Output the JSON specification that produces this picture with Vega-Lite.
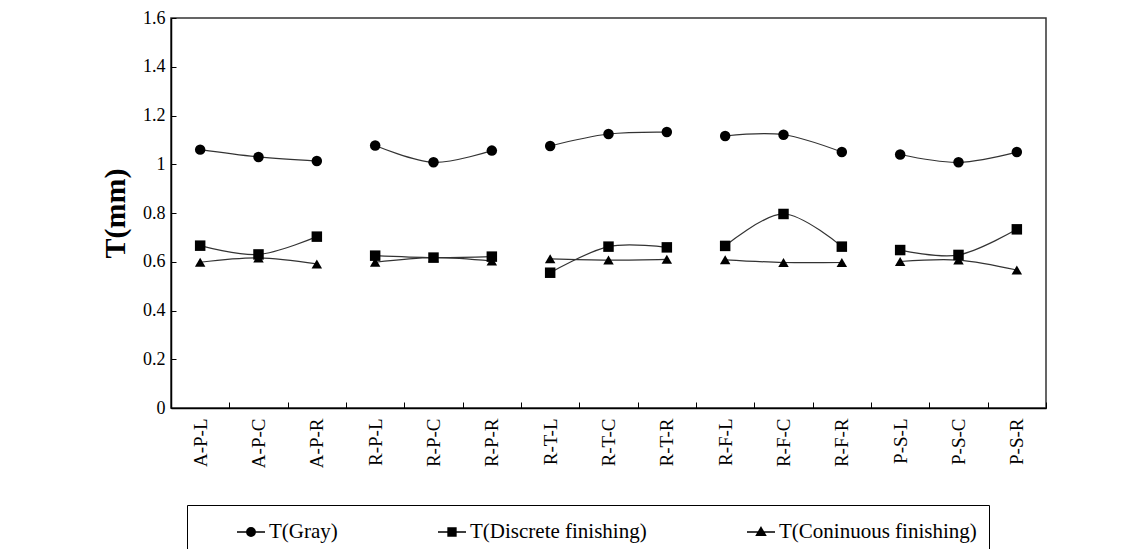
{
  "$schema": "https://vega.github.io/schema/vega-lite/v6.json",
  "width": 875,
  "height": 390,
  "autosize": {"type": "none"},
  "padding": {"left": 171, "top": 18, "right": 94, "bottom": 141},
  "background": "white",
  "config": {
    "view": {"stroke": "#333", "strokeWidth": 1.5},
    "axis": {
      "domainColor": "black",
      "tickColor": "black",
      "labelColor": "black",
      "labelFont": "Liberation Serif",
      "grid": false
    }
  },
  "data": {
    "values": [
      {"cat": "A-P-L", "g": "A-P", "series": "T(Gray)", "v": 1.06},
      {"cat": "A-P-C", "g": "A-P", "series": "T(Gray)", "v": 1.03},
      {"cat": "A-P-R", "g": "A-P", "series": "T(Gray)", "v": 1.013},
      {"cat": "R-P-L", "g": "R-P", "series": "T(Gray)", "v": 1.077},
      {"cat": "R-P-C", "g": "R-P", "series": "T(Gray)", "v": 1.008},
      {"cat": "R-P-R", "g": "R-P", "series": "T(Gray)", "v": 1.056},
      {"cat": "R-T-L", "g": "R-T", "series": "T(Gray)", "v": 1.075},
      {"cat": "R-T-C", "g": "R-T", "series": "T(Gray)", "v": 1.124},
      {"cat": "R-T-R", "g": "R-T", "series": "T(Gray)", "v": 1.132},
      {"cat": "R-F-L", "g": "R-F", "series": "T(Gray)", "v": 1.116},
      {"cat": "R-F-C", "g": "R-F", "series": "T(Gray)", "v": 1.121},
      {"cat": "R-F-R", "g": "R-F", "series": "T(Gray)", "v": 1.05},
      {"cat": "P-S-L", "g": "P-S", "series": "T(Gray)", "v": 1.04},
      {"cat": "P-S-C", "g": "P-S", "series": "T(Gray)", "v": 1.008},
      {"cat": "P-S-R", "g": "P-S", "series": "T(Gray)", "v": 1.05},
      {"cat": "A-P-L", "g": "A-P", "series": "T(Discrete finishing)", "v": 0.666},
      {"cat": "A-P-C", "g": "A-P", "series": "T(Discrete finishing)", "v": 0.63},
      {"cat": "A-P-R", "g": "A-P", "series": "T(Discrete finishing)", "v": 0.703},
      {"cat": "R-P-L", "g": "R-P", "series": "T(Discrete finishing)", "v": 0.625},
      {"cat": "R-P-C", "g": "R-P", "series": "T(Discrete finishing)", "v": 0.617},
      {"cat": "R-P-R", "g": "R-P", "series": "T(Discrete finishing)", "v": 0.621},
      {"cat": "R-T-L", "g": "R-T", "series": "T(Discrete finishing)", "v": 0.555},
      {"cat": "R-T-C", "g": "R-T", "series": "T(Discrete finishing)", "v": 0.662},
      {"cat": "R-T-R", "g": "R-T", "series": "T(Discrete finishing)", "v": 0.659},
      {"cat": "R-F-L", "g": "R-F", "series": "T(Discrete finishing)", "v": 0.665},
      {"cat": "R-F-C", "g": "R-F", "series": "T(Discrete finishing)", "v": 0.796},
      {"cat": "R-F-R", "g": "R-F", "series": "T(Discrete finishing)", "v": 0.662},
      {"cat": "P-S-L", "g": "P-S", "series": "T(Discrete finishing)", "v": 0.648},
      {"cat": "P-S-C", "g": "P-S", "series": "T(Discrete finishing)", "v": 0.628},
      {"cat": "P-S-R", "g": "P-S", "series": "T(Discrete finishing)", "v": 0.733},
      {"cat": "A-P-L", "g": "A-P", "series": "T(Coninuous finishing)", "v": 0.598},
      {"cat": "A-P-C", "g": "A-P", "series": "T(Coninuous finishing)", "v": 0.616},
      {"cat": "A-P-R", "g": "A-P", "series": "T(Coninuous finishing)", "v": 0.591},
      {"cat": "R-P-L", "g": "R-P", "series": "T(Coninuous finishing)", "v": 0.598},
      {"cat": "R-P-C", "g": "R-P", "series": "T(Coninuous finishing)", "v": 0.617},
      {"cat": "R-P-R", "g": "R-P", "series": "T(Coninuous finishing)", "v": 0.603},
      {"cat": "R-T-L", "g": "R-T", "series": "T(Coninuous finishing)", "v": 0.612},
      {"cat": "R-T-C", "g": "R-T", "series": "T(Coninuous finishing)", "v": 0.607},
      {"cat": "R-T-R", "g": "R-T", "series": "T(Coninuous finishing)", "v": 0.61},
      {"cat": "R-F-L", "g": "R-F", "series": "T(Coninuous finishing)", "v": 0.608},
      {"cat": "R-F-C", "g": "R-F", "series": "T(Coninuous finishing)", "v": 0.597},
      {"cat": "R-F-R", "g": "R-F", "series": "T(Coninuous finishing)", "v": 0.597},
      {"cat": "P-S-L", "g": "P-S", "series": "T(Coninuous finishing)", "v": 0.601},
      {"cat": "P-S-C", "g": "P-S", "series": "T(Coninuous finishing)", "v": 0.607},
      {"cat": "P-S-R", "g": "P-S", "series": "T(Coninuous finishing)", "v": 0.566}
    ]
  },
  "encoding": {
    "x": {
      "field": "cat",
      "type": "nominal",
      "sort": ["A-P-L", "A-P-C", "A-P-R", "R-P-L", "R-P-C", "R-P-R", "R-T-L", "R-T-C", "R-T-R", "R-F-L", "R-F-C", "R-F-R", "P-S-L", "P-S-C", "P-S-R"],
      "axis": {
        "title": null,
        "labelAngle": -90,
        "tickBand": "extent",
        "tickSize": -6,
        "labelPadding": 16,
        "labelFontSize": 19,
        "domainWidth": 1.5
      }
    },
    "y": {
      "field": "v",
      "type": "quantitative",
      "scale": {"domain": [0, 1.6], "nice": false},
      "axis": {
        "values": [0, 0.2, 0.4, 0.6, 0.8, 1, 1.2, 1.4, 1.6],
        "format": "~g",
        "title": "T(mm)",
        "titleFont": "Liberation Serif",
        "titleFontSize": 30,
        "titleFontWeight": "bold",
        "titleColor": "black",
        "titlePadding": 12,
        "tickSize": -5,
        "labelPadding": 11,
        "labelFontSize": 18,
        "domainWidth": 1.5
      }
    }
  },
  "layer": [
    {
      "mark": {"type": "line", "interpolate": "cardinal", "color": "#333", "strokeWidth": 1.2},
      "encoding": {"detail": [{"field": "g"}, {"field": "series"}]}
    },
    {
      "mark": {"type": "point", "filled": true, "color": "black", "size": 110, "opacity": 1},
      "encoding": {
        "shape": {
          "field": "series",
          "type": "nominal",
          "scale": {"domain": ["T(Gray)", "T(Discrete finishing)", "T(Coninuous finishing)"], "range": ["circle", "square", "triangle-up"]},
          "legend": null
        }
      }
    },
    {
      "transform": [{"filter": "datum.v < 0"}],
      "mark": {"type": "point", "filled": false, "color": "black", "opacity": 1, "strokeWidth": 1.5},
      "encoding": {
        "shape": {
          "field": "series",
          "type": "nominal",
          "scale": {
            "domain": ["T(Gray)", "T(Discrete finishing)", "T(Coninuous finishing)"],
            "range": [
              "M-1,0H1M0.3,0A0.3,0.3,0,1,1,-0.3,0A0.3,0.3,0,1,1,0.3,0ZM0.23,0A0.23,0.23,0,1,1,-0.23,0A0.23,0.23,0,1,1,0.23,0ZM0.16,0A0.16,0.16,0,1,1,-0.16,0A0.16,0.16,0,1,1,0.16,0ZM0.09,0A0.09,0.09,0,1,1,-0.09,0A0.09,0.09,0,1,1,0.09,0Z",
              "M-1,0H1M-0.28,-0.28H0.28V0.28H-0.28ZM-0.21,-0.21H0.21V0.21H-0.21ZM-0.14,-0.14H0.14V0.14H-0.14ZM-0.07,-0.07H0.07V0.07H-0.07Z",
              "M-1,0H1M0,-0.32L0.32,0.24H-0.32ZM0,-0.224L0.224,0.168H-0.224ZM0,-0.128L0.128,0.096H-0.128ZM0,-0.048L0.048,0.036H-0.048Z"
            ]
          },
          "legend": {
            "title": null,
            "orient": "none",
            "legendX": 16,
            "legendY": 487,
            "direction": "horizontal",
            "columns": 3,
            "symbolSize": 784,
            "symbolOffset": 37,
            "labelOffset": 3,
            "columnPadding": 62,
            "padding": 12,
            "strokeColor": "black",
            "labelFont": "Liberation Serif",
            "labelFontSize": 21,
            "labelColor": "black",
            "labelLimit": 400,
            "symbolStrokeWidth": 1.5,
            "symbolStrokeColor": "black",
            "symbolOpacity": 1
          }
        }
      }
    }
  ],
  "resolve": {"scale": {"shape": "independent"}}
}
